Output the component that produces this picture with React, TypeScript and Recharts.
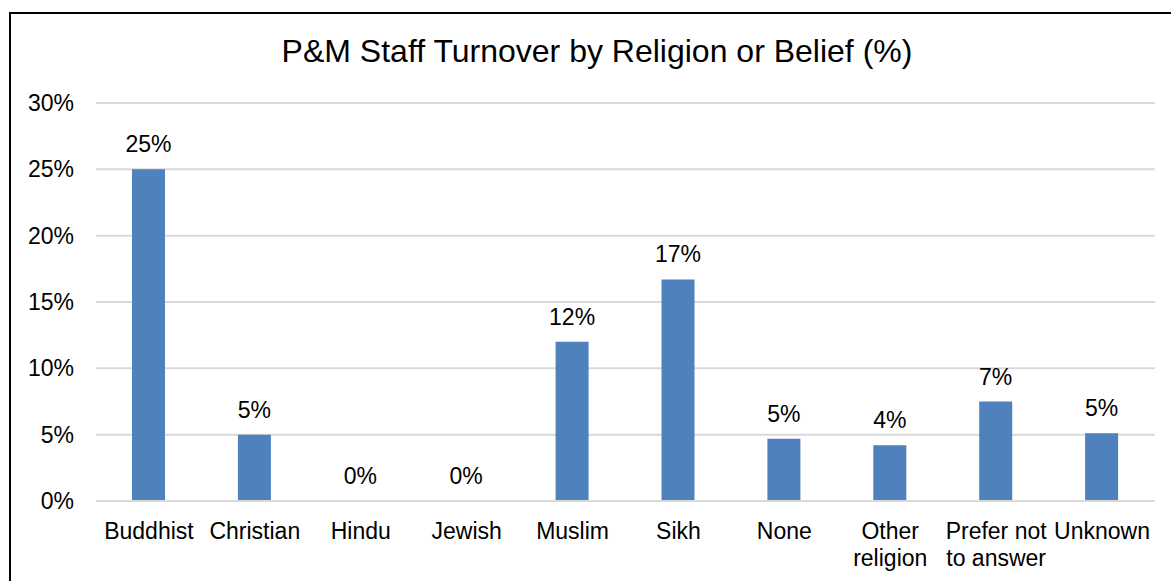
import React from 'react'
import { BarChart, Bar, XAxis, YAxis, CartesianGrid, LabelList } from 'recharts'

const categories = ['Buddhist', 'Christian', 'Hindu', 'Jewish', 'Muslim', 'Sikh', 'None', 'Other religion', 'Prefer not to answer', 'Unknown']
const tickLines = [['Buddhist'], ['Christian'], ['Hindu'], ['Jewish'], ['Muslim'], ['Sikh'], ['None'], ['Other', 'religion'], ['Prefer not', 'to answer'], ['Unknown']]
const turnover = [25, 5, 0, 0, 12, 16.7, 4.7, 4.2, 7.5, 5.1]
const valueLabels = ['25%', '5%', '0%', '0%', '12%', '17%', '5%', '4%', '7%', '5%']
const yTicks = [0, 5, 10, 15, 20, 25, 30]

const data = categories.map((name, i) => ({ name, value: turnover[i], label: valueLabels[i] }))

const font = '"Liberation Sans", Arial, sans-serif'

const CategoryTick = ({ x, y, index }: any) => {
  const lines = tickLines[index] || []
  return (
    <text x={x} y={y + 36} textAnchor="middle" fill="#000" fontSize={23} fontFamily={font}>
      {lines.map((l, i) => (
        <tspan key={i} x={x} dy={i === 0 ? 0 : 27}>{l}</tspan>
      ))}
    </text>
  )
}

// zero bars still need their "0%" label, so give them a hairline height
const minSize = (value: any) => (value === 0 ? 0.01 : 0)

export default function App() {
  return (
    <div style={{ position: 'absolute', left: 0, top: 0, width: 1171, height: 581, overflow: 'hidden', background: '#fff' }}>
      <div style={{ position: 'absolute', left: 9, top: 12, width: 1170, height: 580, borderLeft: '2px solid #000', borderTop: '2px solid #000' }} />
      <div style={{ position: 'absolute', left: 11, top: 35, width: 1172, textAlign: 'center', fontFamily: font, fontSize: 32, lineHeight: '32px', color: '#000' }}>
        P&amp;M Staff Turnover by Religion or Belief (%)
      </div>
      <div style={{ position: 'absolute', left: 11, top: 14 }}>
        <BarChart width={1160} height={567} data={data} margin={{ top: 89, right: 16, bottom: 0, left: 0 }}>
          <CartesianGrid vertical={false} stroke="#D9D9D9" strokeWidth={2} />
          <XAxis
            dataKey="name"
            height={80}
            interval={0}
            axisLine={{ stroke: '#D9D9D9', strokeWidth: 2 }}
            tickLine={false}
            tickSize={0}
            tick={<CategoryTick />}
          />
          <YAxis
            width={85}
            domain={[0, 30]}
            ticks={yTicks}
            axisLine={false}
            tickLine={false}
            tickSize={0}
            tickMargin={22}
            tickFormatter={(v) => `${v}%`}
            tick={{ fill: '#000', fontSize: 23, fontFamily: font }}
          />
          <Bar dataKey="value" fill="#4F81BD" barSize={33} minPointSize={minSize} isAnimationActive={false}>
            <LabelList dataKey="label" position="top" offset={17} fill="#000" fontSize={23} fontFamily={font} />
          </Bar>
        </BarChart>
      </div>
    </div>
  )
}
